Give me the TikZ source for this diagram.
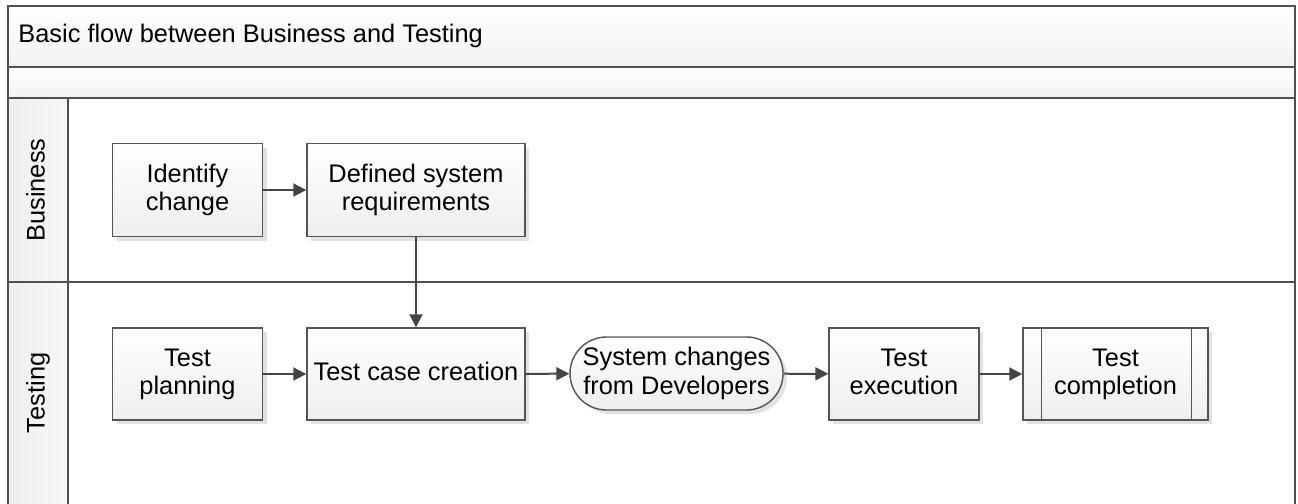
\documentclass[tikz,border=0pt]{standalone}
\usepackage{fontspec}
\setmainfont{Liberation Sans}
\usetikzlibrary{arrows.meta,shapes.misc,shadows}
\definecolor{frameclr}{HTML}{505050}
\definecolor{boxclr}{HTML}{555555}
\definecolor{arrowclr}{HTML}{454545}
\definecolor{shadeclr}{HTML}{EEEEEE}
\definecolor{shadowclr}{HTML}{E2E2E2}
\newcommand{\lblfont}{\fontsize{12.7}{14.2}\selectfont}
% a strut balanced around the middle of the capitals keeps labels centred
\newcommand{\capstrut}{\rule[-2.55pt]{0pt}{11.65pt}}
\newcommand{\twolines}[2]{#1\capstrut\\#2\capstrut}
\begin{document}
\begin{tikzpicture}[x=0.5pt,y=-0.5pt,
  frameline/.style={draw=frameclr, line width=1pt},
  procbox/.style={draw=boxclr, line width=0.7pt, top color=white, bottom color=shadeclr,
    general shadow={fill=shadowclr, shadow xshift=2pt, shadow yshift=-2pt},
    align=center, font=\lblfont, inner sep=0pt, text=black},
  stadium/.style={procbox, rounded rectangle},
  flow/.style={draw=arrowclr, line width=1pt, -{Triangle[length=6.5pt,width=6.5pt]}},
  lanelabel/.style={rotate=90, font=\lblfont, text=black, inner sep=0pt}]

\useasboundingbox (0,0) rectangle (1298,504);

% pool frame, header strips and lane label column
\begin{scope}
  \clip (0,0) rectangle (1298,504);
  \path[top color=white, bottom color=shadeclr!80] (8,6) rectangle (1295,67);
  \path[top color=white, bottom color=shadeclr!80] (8,67) rectangle (1295,98);
  \path[left color=shadeclr, right color=white!97!black] (8,98) rectangle (68,540);
  \draw[frameline] (8,6) rectangle (1295,540);
  \draw[frameline] (8,67) -- (1295,67);
  \draw[frameline] (8,98) -- (1295,98);
  \draw[frameline] (8,282) -- (1295,282);
  \draw[frameline] (68,98) -- (68,540);
\end{scope}

\node[anchor=west, font=\lblfont, inner sep=0pt] (title) at (18,36) {Basic flow between Business and Testing\capstrut};
\node[lanelabel] (business) at (38,190) {Business\capstrut};
\node[lanelabel] (testing) at (38,393) {Testing\capstrut};

% Business lane
\node[procbox, minimum width=75pt, minimum height=46.5pt] (ic) at (187.5,190) {\twolines{Identify}{change}};
\node[procbox, minimum width=109pt, minimum height=46.5pt] (dsr) at (416,190) {\twolines{Defined system}{requirements}};

% Testing lane
\node[procbox, minimum width=75pt, minimum height=46pt] (tp) at (187.5,374) {\twolines{Test}{planning}};
\node[procbox, minimum width=109pt, minimum height=46pt] (tcc) at (416,374) {Test case creation\capstrut};
\node[stadium, minimum width=106.5pt, minimum height=36.5pt] (scd) at (676.5,373.5) {\twolines{System changes}{from Developers}};
\node[procbox, minimum width=75pt, minimum height=46pt] (te) at (904,374) {\twolines{Test}{execution}};
\node[procbox, minimum width=92.5pt, minimum height=46pt] (tc) at (1115.5,374) {\twolines{Test}{completion}};
\draw[draw=boxclr, line width=0.7pt] ([xshift=9.5pt]tc.north west) -- ([xshift=9.5pt]tc.south west);
\draw[draw=boxclr, line width=0.7pt] ([xshift=-8.5pt]tc.north east) -- ([xshift=-8.5pt]tc.south east);

% connectors
\draw[flow] (ic) -- (dsr);
\draw[flow] (dsr.south) -- (tcc.north);
\draw[flow] (tp) -- (tcc);
\draw[flow] (tcc) -- (scd);
\draw[flow] (scd) -- (te);
\draw[flow] (te) -- (tc);
\end{tikzpicture}
\end{document}
